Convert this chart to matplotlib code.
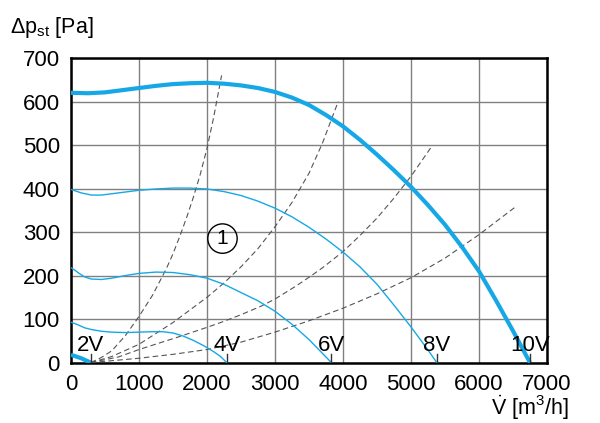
import matplotlib
matplotlib.use('Agg')
import matplotlib.pyplot as plt

plt.rcParams['font.family'] = ['Liberation Sans', 'DejaVu Sans']
plt.rcParams['mathtext.fontset'] = 'custom'
plt.rcParams['mathtext.rm'] = 'Liberation Sans'
plt.rcParams['mathtext.it'] = 'Liberation Sans'

# fan curves (V in m3/h, dp in Pa)
v_10 = [0, 250, 500, 750, 1000, 1250, 1500, 1750, 2000, 2250, 2500, 2750, 3000, 3250, 3500,
        3750, 4000, 4250, 4500, 4750, 5000, 5250, 5500, 5750, 6000, 6250, 6500, 6750]
p_10 = [620, 619, 621, 626, 631, 636, 640, 642, 643, 641, 637, 631, 622, 609, 592,
        569, 543, 512, 478, 442, 404, 362, 317, 266, 210, 143, 73, 0]

v_8 = [0, 150, 300, 450, 600, 800, 1000, 1250, 1500, 1750, 2000, 2250, 2500, 2750, 3000,
       3250, 3500, 3750, 4000, 4250, 4500, 4750, 5000, 5250, 5380]
p_8 = [398, 390, 385, 385, 388, 392, 396, 399, 401, 401, 399, 393, 384, 371, 355,
       335, 311, 284, 254, 220, 180, 132, 82, 29, 0]

v_6 = [0, 60, 120, 200, 300, 450, 600, 800, 1000, 1250, 1500, 1750, 2000, 2250, 2500,
       2750, 3000, 3250, 3500, 3830]
p_6 = [218, 212, 205, 197, 192, 191, 194, 200, 205, 208, 207, 202, 194, 180, 161,
       142, 118, 88, 53, 0]

v_4 = [0, 100, 200, 300, 450, 600, 800, 1000, 1200, 1350, 1500, 1650, 1800, 1950, 2100, 2200, 2290]
p_4 = [93, 87, 80, 76, 72, 70, 69, 70, 71, 71, 68, 61, 51, 39, 25, 14, 0]

v_2 = [0, 150, 290]
p_2 = [18, 10, 0]

# system (duct) curves
v_s1 = [290, 450, 600, 800, 1000, 1200, 1400, 1500, 1600, 1700, 1800, 1900, 2000, 2100, 2215]
p_s1 = [0, 12, 27, 62, 106, 155, 215, 250, 290, 333, 380, 432, 492, 565, 660]
v_s2 = [290, 600, 1000, 1500, 2000, 2250, 2500, 2750, 3000, 3250, 3500, 3700, 3930]
p_s2 = [0, 14, 42, 92, 150, 183, 220, 262, 312, 368, 435, 505, 600]
v_s3 = [290, 700, 1000, 1300, 1600, 2000, 2200, 2500, 2800, 3000, 3300, 3500, 3700,
        4000, 4250, 4500, 4750, 5000, 5310]
p_s3 = [0, 13, 30, 45, 60, 81, 92, 110, 130, 146, 175, 196, 218,
        255, 292, 332, 378, 428, 498]
v_s4 = [290, 1000, 1500, 2000, 2500, 3000, 3500, 4000, 4500, 5000, 5500, 6000, 6530]
p_s4 = [0, 10, 19, 30, 47, 70, 96, 125, 158, 195, 240, 294, 357]

volt_labels = ['2V', '4V', '6V', '8V', '10V']
volt_ends = [290, 2290, 3830, 5380, 6750]

blue = '#16a8e6'
fs = 16

fig = plt.figure(figsize=(6, 4.23), dpi=100)
ax = fig.add_axes([0.1183, 0.1428, 0.7933, 0.7201])

ax.set_xlim(0, 7000)
ax.set_ylim(0, 700)
ax.set_xticks(range(0, 7001, 1000))
ax.set_yticks(range(0, 701, 100))
ax.grid(True, color='#808080', linewidth=1.0)
ax.set_axisbelow(True)
ax.tick_params(length=0, labelsize=fs, pad=8)
for s in ax.spines.values():
    s.set_linewidth(1.8)

for v, p in [(v_s1, p_s1), (v_s2, p_s2), (v_s3, p_s3), (v_s4, p_s4)]:
    ax.plot(v, p, color='#555555', lw=0.8, ls=(0, (5, 3)), zorder=3)

ax.plot(v_10, p_10, color=blue, lw=3.0, zorder=4, solid_capstyle='butt')
ax.plot(v_2, p_2, color=blue, lw=3.0, zorder=4, solid_capstyle='butt')
for v, p in [(v_8, p_8), (v_6, p_6), (v_4, p_4)]:
    ax.plot(v, p, color=blue, lw=1.0, zorder=4)

for lab, xe in zip(volt_labels, volt_ends):
    ax.plot([xe, xe], [0, 20], color='#333333', lw=1.0, zorder=5)
    ax.text(xe, 27, lab, ha='center', va='baseline', fontsize=fs, zorder=6)

ax.text(2228, 285, '1', ha='center', va='center', fontsize=15,
        bbox=dict(boxstyle='circle,pad=0.25', fc='none', ec='black', lw=1.0))

fig.text(10 / 600, 1 - 33 / 423, r'$\Delta\mathrm{p}_{\mathrm{st}}$ [Pa]', ha='left',
         va='baseline', fontsize=15.5)
fig.text(569 / 600, 1 - 415 / 423, r'$\dot{\mathrm{V}}$ [m$^3$/h]', ha='right',
         va='baseline', fontsize=15.5)

fig.savefig('out.png', dpi=100)
